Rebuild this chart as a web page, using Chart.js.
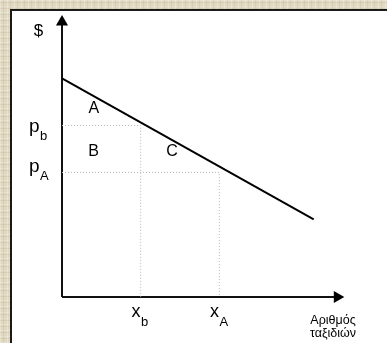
<!DOCTYPE html>
<html>
<head>
<meta charset="utf-8">
<script src="https://cdn.jsdelivr.net/npm/chart.js@4/dist/chart.umd.min.js"></script>
<style>
    html, body { margin: 0; padding: 0; }
    body {
        width: 387px; height: 343px; overflow: hidden; position: relative;
        background-color: #e0d8c0;
        background-image:
            repeating-linear-gradient(90deg, rgba(255,255,255,0.25) 0 1px, transparent 1px 3px, rgba(150,130,90,0.12) 3px 4px, transparent 4px 7px),
            repeating-linear-gradient(0deg, rgba(255,255,255,0.2) 0 1px, transparent 1px 4px, rgba(140,120,80,0.12) 4px 5px, transparent 5px 6px);
    }
    #painel {
        position: absolute; left: 10px; top: 9px; right: 0; bottom: 0;
        background: #fff;
        border-left: 2px solid #1a1a1a;
        border-top: 2px solid #1a1a1a;
    }
    #myChart { position: absolute; left: 0; top: 0; }
</style>
</head>
<body>
<div id="painel"></div>
<canvas id="myChart" width="387" height="343"></canvas>
<script>
// dados do gráfico (unidades do próprio gráfico)
var quantidades = [2, 4];            // x_b, x_A
var precos = [7.3, 5.3];             // p_b, p_A
var demandaX = [0, 6.4];             // reta de demanda
var demandaY = [9.3, 3.3];
var eixoMaxX = 7.0;                  // ponta da seta do eixo x
var eixoMaxY = 11.7;                 // ponta da seta do eixo y

// rótulos
var rotulosAreas = ['A', 'B', 'C'];
var rotulosPrecos = [['p', 'b'], ['p', 'A']];
var rotulosQtd = [['x', 'b'], ['x', 'A']];
var rotuloEixoY = '$';
var rotuloEixoX = ['Αριθμός', 'ταξιδιών'];

// posições dos rótulos (em coordenadas do gráfico)
var posAreas = [[0.81, 8.0], [0.8, 6.17], [2.8, 6.17]];
var posPrecos = [[-0.84, 7.04], [-0.84, 5.34]];
var posQtd = [[1.77, -0.85], [3.76, -0.85]];
var posEixoY = [-0.6, 11.3];
var posEixoX = [[6.89, -1.15], [6.89, -1.70]];

function pontos(xs, ys) {
    return xs.map(function (v, i) { return { x: v, y: ys[i] }; });
}

var pontilhado = {
    borderColor: '#b8b8b8',
    borderWidth: 1,
    borderDash: [1, 2],
    pointRadius: 0,
    fill: false,
    clip: false
};

var datasets = [];
// linhas pontilhadas de p_b/x_b e p_A/x_A
for (var i = 0; i < quantidades.length; i++) {
    datasets.push(Object.assign({
        data: [{ x: 0, y: precos[i] }, { x: quantidades[i], y: precos[i] }, { x: quantidades[i], y: 0 }]
    }, pontilhado));
}
// demanda
datasets.push({
    data: pontos(demandaX, demandaY),
    borderColor: '#000',
    borderWidth: 2,
    pointRadius: 0,
    clip: false
});
// eixos com setas
datasets.push({
    data: [{ x: 0, y: 0 }, { x: 0, y: eixoMaxY }],
    borderColor: '#111',
    backgroundColor: '#000',
    borderWidth: 2,
    pointStyle: 'triangle',
    pointRadius: [0, 7],
    pointBorderWidth: 0,
    pointRotation: 0,
    clip: false
});
datasets.push({
    data: [{ x: 0, y: 0 }, { x: eixoMaxX, y: 0 }],
    borderColor: '#111',
    backgroundColor: '#000',
    borderWidth: 2,
    pointStyle: 'triangle',
    pointRadius: [0, 7],
    pointBorderWidth: 0,
    pointRotation: 90,
    clip: false
});

var fonte = '"Liberation Sans", Arial, sans-serif';

function textoComIndice(ctx, sx, sy, par, pos, tamanho, tamanhoIndice, desloc) {
    var px = sx.getPixelForValue(pos[0]);
    var py = sy.getPixelForValue(pos[1]);
    ctx.textAlign = 'left';
    ctx.textBaseline = 'alphabetic';
    ctx.font = tamanho + 'px ' + fonte;
    ctx.fillText(par[0], px, py);
    var w = ctx.measureText(par[0]).width;
    ctx.font = tamanhoIndice + 'px ' + fonte;
    ctx.fillText(par[1], px + w + 0.5, py + desloc);
}

var rotulosPlugin = {
    id: 'rotulos',
    afterDatasetsDraw: function (chart) {
        var ctx = chart.ctx;
        var sx = chart.scales.x, sy = chart.scales.y;
        ctx.save();
        ctx.fillStyle = '#000';

        ctx.font = '16px ' + fonte;
        ctx.textAlign = 'center';
        ctx.textBaseline = 'middle';
        for (var i = 0; i < rotulosAreas.length; i++) {
            ctx.fillText(rotulosAreas[i], sx.getPixelForValue(posAreas[i][0]), sy.getPixelForValue(posAreas[i][1]));
        }
        ctx.font = '17px ' + fonte;
        ctx.fillText(rotuloEixoY, sx.getPixelForValue(posEixoY[0]), sy.getPixelForValue(posEixoY[1]));

        for (var j = 0; j < rotulosPrecos.length; j++) {
            textoComIndice(ctx, sx, sy, rotulosPrecos[j], posPrecos[j], 19, 13, 8.5);
        }
        for (var k = 0; k < rotulosQtd.length; k++) {
            textoComIndice(ctx, sx, sy, rotulosQtd[k], posQtd[k], 18, 13, 9.5);
        }

        ctx.font = '12.5px ' + fonte;
        ctx.textAlign = 'center';
        ctx.textBaseline = 'alphabetic';
        for (var m = 0; m < rotuloEixoX.length; m++) {
            ctx.fillText(rotuloEixoX[m], sx.getPixelForValue(posEixoX[m][0]), sy.getPixelForValue(posEixoX[m][1]));
        }
        ctx.restore();
    }
};

var ctx = document.getElementById('myChart').getContext('2d');
var myChart = new Chart(ctx, {
    type: 'line',
    data: { datasets: datasets },
    options: {
        responsive: false,
        animation: false,
        layout: { padding: { left: 62, right: 30, top: 15, bottom: 46 } },
        scales: {
            x: { type: 'linear', min: 0, max: 7.5, display: false },
            y: { type: 'linear', min: 0, max: 12, display: false }
        },
        plugins: {
            legend: { display: false },
            tooltip: { enabled: false }
        }
    },
    plugins: [rotulosPlugin]
});
</script>
</body>
</html>
